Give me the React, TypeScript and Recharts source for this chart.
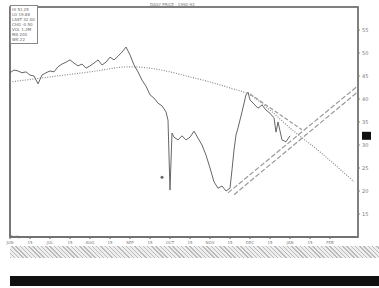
// Daily price chart with moving average and trend channels -- recharts.

import {
	ComposedChart,
	Line,
	ReferenceArea,
	ReferenceDot,
	ReferenceLine,
	XAxis,
	YAxis,
} from "recharts";

const priceDays = [
	0, 2, 4, 6, 8, 10, 12, 14, 16, 18, 20, 22, 24, 26, 28, 30, 32, 34, 36, 38, 40, 42, 44, 46, 48, 50,
	52, 54, 56, 58, 60, 62, 64, 66, 68, 70, 72, 74, 76, 78, 79, 80, 81, 82, 84, 86, 88, 90, 92, 94,
	96, 98, 100, 102, 104, 106, 108, 110, 111, 112, 113, 114, 116, 118, 119, 120, 122, 124, 126,
	128, 130, 132, 133, 134, 136, 138, 140,
];
const priceValues = [
	45.7, 46.3, 46.1, 45.7, 45.9, 45.2, 45.0, 43.3, 45.2, 45.7, 46.1, 45.9, 47.0, 47.6, 48.0, 48.5,
	47.8, 47.2, 47.6, 46.7, 47.2, 47.8, 48.5, 47.4, 48.0, 49.1, 48.5, 49.3, 50.2, 51.3, 49.6, 47.4,
	45.9, 44.1, 42.8, 40.9, 40.2, 39.1, 38.5, 37.2, 35.4, 20.2, 32.6, 31.7, 31.1, 32.0, 31.1, 31.7,
	33.0, 31.5, 30.0, 27.8, 25.0, 22.0, 20.6, 21.1, 20.0, 20.6, 24.6, 28.9, 32.2, 33.7, 37.2, 40.9,
	41.5, 39.8, 38.9, 38.0, 38.7, 37.6, 36.9, 35.9, 32.8, 35.0, 31.1, 30.7, 32.0,
];

const maDays = [0, 20, 40, 60, 70, 80, 90, 100, 110, 120, 130, 140, 155, 172];
const maValues = [43.7, 44.8, 45.9, 47.0, 46.7, 45.9, 44.8, 43.7, 42.4, 40.9, 37.6, 33.7, 28.5, 22.0];

const downDays = [120, 146];
const downValues = [41.1, 33.3];

const channelDays = [109, 174];
const channelUpper = [19.6, 42.9];
const channelLowerDays = [112, 174];
const channelLower = [19.2, 41.6];

const priceTicks = [15, 20, 25, 30, 35, 40, 45, 50, 55];
const dateTicks = [0, 10, 20, 30, 40, 50, 60, 70, 80, 90, 100, 110, 120, 130, 140, 150, 160];
const dateLabels = [
	"JUN", "15", "JUL", "15", "AUG", "15", "SEP", "15", "OCT", "15", "NOV", "15", "DEC", "15",
	"JAN", "15", "FEB",
];
const legendLines = ["HI  51.25", "LO  19.88", "LAST 32.00", "CHG -0.50", "VOL  1.2M", "MA  200", "WK 22"];
const lastPrice = 32.0;

const toRows = (days: number[], values: number[]) =>
	days.map((day, i) => ({ day, v: values[i] }));

const priceRows = toRows(priceDays, priceValues);
const maRows = toRows(maDays, maValues);
const downRows = toRows(downDays, downValues);
const upperRows = toRows(channelDays, channelUpper);
const lowerRows = toRows(channelLowerDays, channelLower);

function LastTag(props: any) {
	const { viewBox } = props;
	if (!viewBox) return null;
	return <rect x={viewBox.x + viewBox.width + 4} y={viewBox.y - 4} width={9} height={8} fill="#111" />;
}

export default function App() {
	return (
		<div style={{ position: "relative", width: 379, height: 288, background: "#fff", fontFamily: "DejaVu Sans" }}>
			<style>{"body{margin:0}"}</style>
			<ComposedChart width={379} height={246} margin={{ top: 7, right: 0, bottom: 0, left: 10 }}>
				<XAxis
					dataKey="day"
					type="number"
					domain={[0, 174]}
					ticks={dateTicks}
					tickFormatter={(d: number) => dateLabels[dateTicks.indexOf(d)] ?? ""}
					height={9}
					tick={{ fontSize: 4, fill: "#777" }}
					tickSize={2}
					stroke="#666"
					allowDataOverflow
				/>
				<YAxis
					orientation="right"
					type="number"
					domain={[10, 60]}
					ticks={priceTicks}
					width={21}
					tick={{ fontSize: 5, fill: "#777" }}
					tickSize={2}
					stroke="#888"
					allowDataOverflow
				/>
				<ReferenceArea x1={0} x2={174} y1={10} y2={60} fill="none" stroke="#555" strokeWidth={1.6} />
				<ReferenceLine y={lastPrice} stroke="none" label={<LastTag />} />
				<Line data={maRows} dataKey="v" type="monotone" stroke="#8a8a8a" strokeWidth={1.2} strokeDasharray="1 1.5" dot={false} isAnimationActive={false} />
				<Line data={downRows} dataKey="v" type="linear" stroke="#9a9a9a" strokeWidth={1.2} strokeDasharray="4 2" dot={false} isAnimationActive={false} />
				<Line data={upperRows} dataKey="v" type="linear" stroke="#9a9a9a" strokeWidth={1.2} strokeDasharray="5 2" dot={false} isAnimationActive={false} />
				<Line data={lowerRows} dataKey="v" type="linear" stroke="#9a9a9a" strokeWidth={1.2} strokeDasharray="5 2" dot={false} isAnimationActive={false} />
				<Line data={priceRows} dataKey="v" type="linear" stroke="#666" strokeWidth={1} dot={false} isAnimationActive={false} />
				<ReferenceDot x={76} y={23} r={1.5} fill="#666" stroke="none" />
			</ComposedChart>
			<div style={{ position: "absolute", left: 10, top: 5, width: 24, padding: 1, border: "1px solid #888", background: "#fff" }}>
				{legendLines.map((t) => (
					<div key={t} style={{ fontSize: 4, lineHeight: "5px", color: "#666", whiteSpace: "nowrap" }}>{t}</div>
				))}
			</div>
			<div style={{ position: "absolute", left: 150, top: 2, fontSize: 4, color: "#777" }}>DAILY PRICE  ·  1992-93</div>
			<div style={{ position: "absolute", left: 10, top: 234, fontSize: 4, color: "#777" }}>Daily</div>
			<div
				style={{
					position: "absolute",
					left: 10,
					top: 246,
					width: 369,
					height: 12,
					background: "repeating-linear-gradient(45deg, #bbb 0 1px, #eee 1px 3px)",
				}}
			/>
			<div style={{ position: "absolute", left: 10, top: 276, width: 369, height: 10, background: "#111" }} />
		</div>
	);
}
